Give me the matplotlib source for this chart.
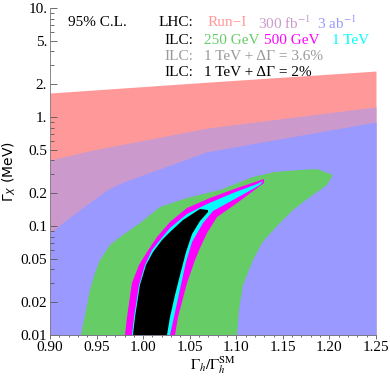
import matplotlib
matplotlib.use("Agg")
import matplotlib.pyplot as plt
from matplotlib.ticker import FixedLocator, NullFormatter

plt.rcParams["mathtext.fontset"] = "stix"
plt.rcParams["font.family"] = ["Liberation Serif", "DejaVu Serif"]

# LHC upper edges (Gamma_X in MeV vs Gamma_h / Gamma_h^SM)
run1_x = [0.90, 1.07, 1.25]
run1_y = [1.66, 2.09, 2.64]

lhc300_x = [0.90, 0.946, 0.957, 1.069, 1.25]
lhc300_y = [0.403, 0.498, 0.519, 0.793, 1.24]

lhc3000_x = [0.90, 0.9215, 0.9462, 0.9612, 0.9784, 1.0686, 1.25]
lhc3000_y = [0.0863, 0.121, 0.173, 0.214, 0.253, 0.48, 0.90]

# ILC regions (closed outlines)
ilc250_x = [0.9333, 0.9376, 0.9429, 0.9483, 0.9537, 0.9644, 0.9752, 0.9966,
            1.0181, 1.0471, 1.0825, 1.1180, 1.1416, 1.1684, 1.1867, 1.2038,
            1.1974, 1.1791, 1.1609, 1.1469, 1.1330, 1.1276, 1.1180, 1.1072,
            1.1029, 1.1008]
ilc250_y = [0.0100, 0.0153, 0.0259, 0.0371, 0.0488, 0.0670, 0.0793, 0.1065,
            0.1494, 0.1807, 0.2140, 0.2816, 0.3130, 0.3265, 0.3334, 0.2937,
            0.2378, 0.1846, 0.1402, 0.1065, 0.0793, 0.0698, 0.0488, 0.0288,
            0.0170, 0.0100]

ilc500_x = [0.9805, 0.9827, 0.9880, 0.9956, 1.0041, 1.0149, 1.0288, 1.0471,
            1.0718, 1.1008, 1.1298, 1.1298, 1.1008, 1.0793, 1.0686, 1.0610,
            1.0557, 1.0471, 1.0374, 1.0342]
ilc500_y = [0.0100, 0.0146, 0.0300, 0.0439, 0.0577, 0.0793, 0.1088, 0.1463,
            0.1807, 0.2232, 0.2699, 0.2480, 0.1626, 0.1209, 0.0863, 0.0628,
            0.0488, 0.0300, 0.0146, 0.0100]

ilc1000_x = [0.9880, 0.9902, 0.9956, 1.0020, 1.0095, 1.0181, 1.0288, 1.0471,
             1.0686, 1.0965, 1.1222, 1.1287, 1.1255, 1.0965, 1.0750, 1.0643,
             1.0525, 1.0460, 1.0406, 1.0331, 1.0288]
ilc1000_y = [0.0100, 0.0146, 0.0288, 0.0439, 0.0602, 0.0744, 0.0959, 0.1289,
             0.1592, 0.2008, 0.2429, 0.2587, 0.2378, 0.1732, 0.1373, 0.1065,
             0.0713, 0.0467, 0.0288, 0.0146, 0.0100]

ilc2pct_x = [0.9891, 0.9913, 0.9966, 1.0031, 1.0106, 1.0203, 1.0288, 1.0428,
             1.0610, 1.0696, 1.0696, 1.0610, 1.0525, 1.0460, 1.0396, 1.0342,
             1.0288, 1.0256]
ilc2pct_y = [0.0100, 0.0146, 0.0288, 0.0439, 0.0577, 0.0744, 0.0881, 0.1135,
             0.1432, 0.1402, 0.1344, 0.1111, 0.0844, 0.0577, 0.0355, 0.0233,
             0.0146, 0.0100]

y_major = [0.01, 0.02, 0.05, 0.1, 0.2, 0.5, 1, 2, 5, 10]
y_major_labels = ["0.01", "0.02", "0.05", "0.1", "0.2", "0.5", "1.", "2.", "5.", "10."]
x_major = [0.90, 0.95, 1.00, 1.05, 1.10, 1.15, 1.20, 1.25]
x_major_labels = ["0.90", "0.95", "1.00", "1.05", "1.10", "1.15", "1.20", "1.25"]

PINK = "#FF9999"
PURPLE = "#CC99CC"
BLUE = "#9999FF"
GREEN = "#66CC66"
MAGENTA = "#FF00FF"
CYAN = "#00FFFF"
GRAY = "#999999"
SERIF = ["Liberation Serif", "DejaVu Serif"]

W, H = 390, 377
fig = plt.figure(figsize=(W / 100, H / 100), dpi=100)
ax = fig.add_axes([50 / W, 42 / H, 326 / W, 327 / H])
ax.set_yscale("log")

ax.fill_between(run1_x, 1e-3, run1_y, color=PINK, lw=0)
ax.fill_between(lhc300_x, 1e-3, lhc300_y, color=PURPLE, lw=0)
ax.fill_between(lhc3000_x, 1e-3, lhc3000_y, color=BLUE, lw=0)
ax.fill(ilc250_x, ilc250_y, color=GREEN, lw=0)
ax.fill(ilc500_x, ilc500_y, color=MAGENTA, lw=0)
ax.fill(ilc1000_x, ilc1000_y, color=CYAN, lw=0)
ax.fill(ilc2pct_x, ilc2pct_y, color="black", lw=0)

ax.set_xlim(0.90, 1.25)
ax.set_ylim(0.01, 10)

ax.yaxis.set_major_locator(FixedLocator(y_major))
ax.set_yticklabels(y_major_labels, fontfamily=SERIF, fontsize=11)
y_minor = [m * d for d in (0.01, 0.1, 1) for m in range(2, 10) if m not in (2, 5)]
ax.yaxis.set_minor_locator(FixedLocator(y_minor))
ax.yaxis.set_minor_formatter(NullFormatter())
ax.xaxis.set_major_locator(FixedLocator(x_major))
ax.set_xticklabels(x_major_labels, fontfamily=SERIF, fontsize=11)
ax.xaxis.set_minor_locator(FixedLocator([0.90 + 0.01 * i for i in range(36)]))

ax.tick_params(axis="y", which="both", direction="in", pad=2,
               color="#555555", width=0.6)
ax.tick_params(axis="y", which="major", length=5)
ax.tick_params(axis="y", which="minor", length=3)
ax.tick_params(axis="x", which="both", direction="out", pad=1,
               color="#555555", width=0.6)
ax.tick_params(axis="x", which="major", length=3)
ax.tick_params(axis="x", which="minor", length=1.5)
for side in ("top", "right"):
    ax.spines[side].set_visible(False)
for side in ("left", "bottom"):
    ax.spines[side].set_color("#777777")
    ax.spines[side].set_linewidth(0.6)

ax.set_xlabel(r"$\Gamma_h/\Gamma_h^{\rm SM}$", fontsize=11, labelpad=1)
ax.set_ylabel(r"$\Gamma_X$ (MeV)", fontsize=10, family="DejaVu Sans",
              math_fontfamily="dejavusans", labelpad=2)


def label(px, py, s, color="black", ha="left"):
    fig.text(px / W, 1 - py / H, s, color=color, ha=ha, va="center",
             fontsize=11, fontfamily=SERIF)


label(68, 23, "95% C.L.")
label(193, 23, "LHC:", ha="right")
label(208, 23, "Run\u2212I", PINK)
label(258, 23, r"300 fb$^{-1}$", PURPLE)
label(317, 23, r"3 ab$^{-1}$", BLUE)
label(193, 40, "ILC:", ha="right")
label(204, 40, "250 GeV", GREEN)
label(264, 40, "500 GeV", MAGENTA)
label(332, 40, "1 TeV", CYAN)
label(193, 57, "ILC:", GRAY, ha="right")
label(204, 57, "1 TeV + \u0394\u0393 = 3.6%", GRAY)
label(193, 73, "ILC:", ha="right")
label(204, 73, "1 TeV + \u0394\u0393 = 2%")

fig.savefig("out.png", dpi=100)
